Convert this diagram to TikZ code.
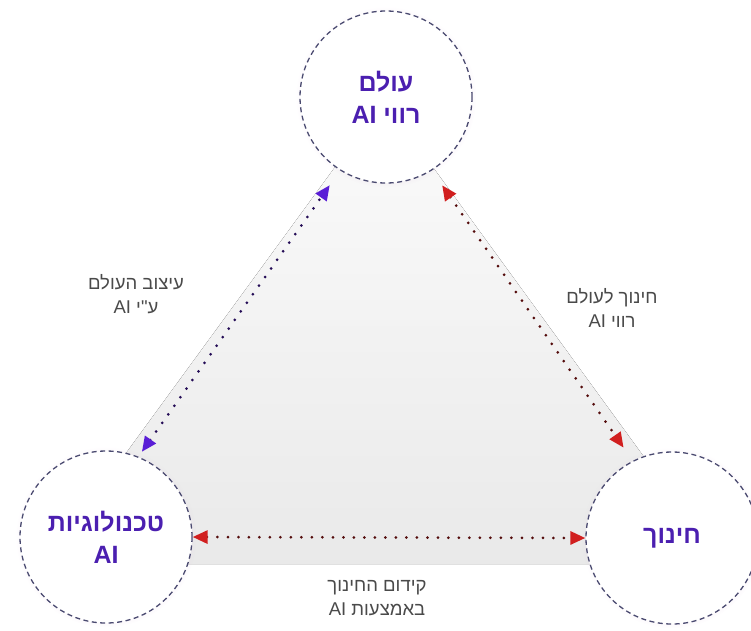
\documentclass[tikz,border=0pt]{standalone}
\usepackage{fontspec}
\newfontfamily\hebfont[Script=Hebrew]{Liberation Sans}
\TeXXeTstate=1
\usetikzlibrary{arrows.meta, shadows}
\definecolor{ttlpurple}{HTML}{4B1FB0}
\definecolor{rimgray}{HTML}{4A4A70}
\definecolor{headpurple}{HTML}{5A1ED6}
\definecolor{headred}{HTML}{D11F1F}
\definecolor{lbltext}{HTML}{4A4A4A}
\newcommand{\heb}[1]{\beginR #1\endR}
\newcommand{\ai}{\beginL AI\endL}

\begin{document}
\begin{tikzpicture}[x=1pt,y=-1pt,
	hub/.style={circle, draw=rimgray, fill=white, line width=1.3pt, dash pattern=on 5pt off 3.5pt,
		minimum size=172pt, inner sep=0pt, align=center, text=ttlpurple,
		circular drop shadow={shadow xshift=0pt, shadow yshift=0pt, shadow scale=1.05, opacity=0.25, fill=violet!25},
		font=\hebfont\bfseries\fontsize{25}{32}\selectfont},
	note/.style={align=center, text=lbltext, font=\hebfont\fontsize{18.5}{24}\selectfont},
	link/.style={draw=#1!40!black, line width=3pt, line cap=round, dash pattern=on 0pt off 10.5pt,
		{Triangle[length=15pt,width=13pt,color=#1]}-{Triangle[length=15pt,width=13pt,color=#1]}}]
	\useasboundingbox (0,0) rectangle (751,630);
	\fill[top color=gray!3, bottom color=gray!17] (384,100) -- (45,564) -- (722,564) -- cycle;

	\node[hub] (world) at (386,97) {\heb{עולם}\\\heb{רווי \ai}};
	\node[hub] (tech) at (106,537) {\heb{טכנולוגיות}\\\ai};
	\node[hub] (edu) at (672,538) {\heb{חינוך}};

	\node[note] (shape) at (136,294) {\heb{עיצוב העולם}\\\heb{ע"י \ai}};
	\node[note] (teach) at (612,308) {\heb{חינוך לעולם}\\\heb{רווי \ai}};
	\node[note] (advance) at (377,598) {\heb{קידום החינוך}\\\heb{באמצעות \ai}};

	\draw[link=headpurple, shorten <=6pt, shorten >=18pt] (tech.68) -- (world.238);
	\draw[link=headred, shorten <=18pt, shorten >=16pt] (world.302) -- (edu.117);
	\draw[link=headred] (tech.east) -- (edu.west);
\end{tikzpicture}
\end{document}
